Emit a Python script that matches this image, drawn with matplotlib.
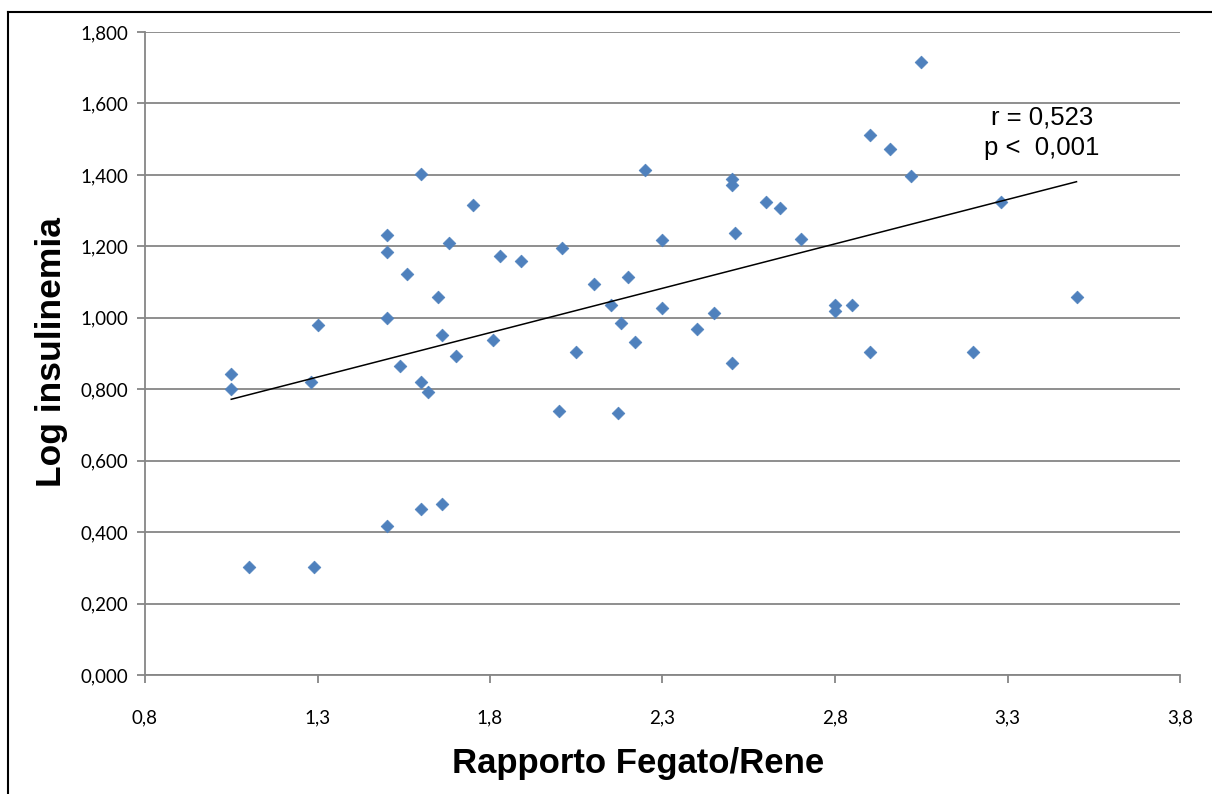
import numpy as np
import matplotlib
matplotlib.use("Agg")
import matplotlib.pyplot as plt
from matplotlib.ticker import FuncFormatter
from matplotlib.lines import Line2D

# Rapporto Fegato/Rene (x) vs Log insulinemia (y)
rapporto = [1.05, 1.05, 1.10, 1.28, 1.29, 1.30, 1.50, 1.50, 1.50, 1.50,
            1.54, 1.56, 1.60, 1.60, 1.60, 1.62, 1.65, 1.66, 1.66, 1.68,
            1.70, 1.75, 1.81, 1.83, 1.89, 2.00, 2.01, 2.05, 2.10, 2.15,
            2.17, 2.18, 2.20, 2.22, 2.25, 2.30, 2.30, 2.40, 2.45, 2.50,
            2.50, 2.51, 2.50, 2.60, 2.64, 2.70, 2.80, 2.80, 2.85, 2.90,
            2.90, 2.96, 3.02, 3.05, 3.20, 3.28, 3.50]
log_ins = [0.843, 0.800, 0.302, 0.820, 0.302, 0.980, 1.232, 1.184, 1.000, 0.417,
           0.865, 1.123, 1.403, 0.820, 0.465, 0.792, 1.058, 0.952, 0.479, 1.209,
           0.893, 1.316, 0.938, 1.173, 1.159, 0.739, 1.195, 0.904, 1.095, 1.036,
           0.733, 0.985, 1.114, 0.932, 1.414, 1.218, 1.027, 0.969, 1.013, 1.389,
           1.372, 1.237, 0.873, 1.324, 1.307, 1.221, 1.036, 1.019, 1.036, 1.512,
           0.904, 1.473, 1.397, 1.716, 0.904, 1.324, 1.058]

x_ticks = [0.8, 1.3, 1.8, 2.3, 2.8, 3.3, 3.8]
y_ticks = [0.0, 0.2, 0.4, 0.6, 0.8, 1.0, 1.2, 1.4, 1.6, 1.8]

x = np.array(rapporto)
y = np.array(log_ins)

W, H = 1212, 794
fig = plt.figure(figsize=(W / 100, H / 100), dpi=100)
ax = fig.add_axes([145 / W, 1 - 675 / H, 1035 / W, 643 / H])

grid_col = "#868686"
ax.scatter(x, y, marker="D", s=42, color="#4F81BD", edgecolors="#4F81BD",
           linewidths=0.5, zorder=3)

# linear trend line
slope, intercept = np.polyfit(x, y, 1)
xl = np.array([x.min(), x.max()])
ax.plot(xl, slope * xl + intercept, color="black", lw=1.1, zorder=4)

ax.set_xlim(0.8, 3.8)
ax.set_ylim(0, 1.8)
ax.set_xticks(x_ticks)
ax.set_yticks(y_ticks)
ax.xaxis.set_major_formatter(FuncFormatter(lambda v, p: f"{v:.1f}".replace(".", ",")))
ax.yaxis.set_major_formatter(FuncFormatter(lambda v, p: f"{v:.3f}".replace(".", ",")))
ax.grid(axis="y", color=grid_col, lw=1.3)
ax.set_axisbelow(True)
for s in ["top", "right"]:
    ax.spines[s].set_visible(False)
for s in ["left", "bottom"]:
    ax.spines[s].set_color(grid_col)
    ax.spines[s].set_linewidth(1.3)
ax.tick_params(axis="both", direction="out", length=6, width=1.3, color=grid_col,
               labelsize=13.5, labelcolor="black")
ax.tick_params(axis="x", pad=19)
ax.tick_params(axis="y", pad=6)
for lab in ax.get_xticklabels() + ax.get_yticklabels():
    lab.set_family("Lato")

ax.set_xlabel("Rapporto Fegato/Rene", fontsize=25, fontweight="bold",
              family="Liberation Sans")
ax.set_ylabel("Log insulinemia", fontsize=25.5, fontweight="bold",
              family="Liberation Sans")
ax.xaxis.set_label_coords((638 - 145) / 1035, -(763 - 675) / 643, transform=ax.transAxes)
ax.yaxis.set_label_coords(-(145 - 52) / 1035, (675 - 352) / 643, transform=ax.transAxes)
ax.xaxis.label.set_va("center")
ax.yaxis.label.set_va("center")

ax.text(3.40, (675 - 133) / 643 * 1.8, "r = 0,523\np <  0,001", fontsize=18.5,
        ha="center", va="center", family="Liberation Sans", linespacing=1.35)

# chart-area border (only top and left edges fall inside the image)
fig.add_artist(Line2D([8 / W, 1.0], [1 - 12 / H, 1 - 12 / H], transform=fig.transFigure,
                      color="black", lw=1.5))
fig.add_artist(Line2D([8 / W, 8 / W], [0.0, 1 - 12 / H], transform=fig.transFigure,
                      color="black", lw=1.5))

fig.savefig("out.png", dpi=100)
